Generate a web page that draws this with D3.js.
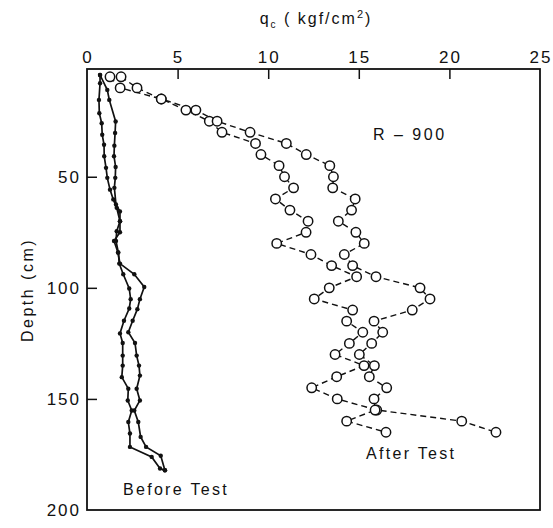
<!DOCTYPE html>
<html>
<head>
<meta charset="utf-8">
<script src="https://cdn.jsdelivr.net/npm/d3@7"></script>
<style>
  body { margin: 0; background: #fff; }
  svg text { font-family: "Liberation Sans", Arial, sans-serif; fill: #111; }
</style>
</head>
<body>
<svg id="chart" width="553" height="528"></svg>
<script>
// x ticks (top axis) and y ticks
var xTicks = [0, 5, 10, 15, 20, 25];
var yTicks = [50, 100, 150, 200];

// Before Test - left trace
var beforeDepthA = [4.2, 7.9, 15.4, 21.4, 25.9, 31.1, 35.6, 40.8, 46.0, 50.5, 55.8, 60.2, 64.0, 70.0, 74.5, 78.9, 84.1, 89.1, 93.9, 100.3, 105.1, 109.3, 114.8, 120.5, 124.8, 130.5, 135.0, 140.2, 145.4, 150.7, 155.2, 160.4, 165.6, 171.6, 176.1, 181.3, 182.1];
var beforeA      = [0.72, 0.72, 0.66, 0.68, 0.81, 0.84, 0.94, 0.95, 1.05, 1.12, 1.27, 1.45, 1.64, 1.82, 1.64, 1.60, 1.73, 1.78, 2.00, 2.33, 2.41, 2.33, 2.04, 1.82, 1.97, 1.97, 1.97, 1.92, 2.28, 2.25, 2.47, 2.28, 2.37, 2.37, 3.57, 4.03, 4.30];

// Before Test - right trace
var beforeDepthB = [4.2, 10.9, 15.4, 25.1, 30.3, 36.0, 40.8, 45.6, 50.5, 55.0, 62.5, 65.6, 70.0, 75.0, 78.9, 84.1, 89.1, 93.9, 99.6, 105.1, 109.6, 114.8, 120.0, 124.8, 130.5, 135.0, 139.5, 145.4, 150.7, 155.2, 160.4, 167.1, 171.6, 175.6, 182.1];
var beforeB      = [0.72, 1.12, 1.23, 1.58, 1.55, 1.51, 1.49, 1.58, 1.56, 1.51, 1.60, 1.82, 1.82, 1.82, 1.49, 1.71, 1.82, 2.61, 3.16, 2.92, 2.78, 2.52, 2.28, 2.65, 2.74, 2.87, 2.92, 2.74, 2.92, 2.61, 2.83, 2.96, 3.26, 4.07, 4.30];

// After Test - two soundings, same depths
var afterDepth = [5, 10, 15, 20, 25, 30, 35, 40, 45, 50, 55, 60, 65, 70, 75, 80, 85, 90, 95, 100, 105, 110, 115, 120, 125, 130, 135, 140, 145, 150, 155, 160, 165];
var afterA = [1.27, 1.83, 4.1, 5.46, 6.75, 7.45, 9.3, 9.6, 10.6, 10.9, 11.4, 10.4, 11.2, 12.2, 12.09, 10.47, 12.36, 13.5, 14.88, 13.37, 12.54, 14.66, 14.33, 15.22, 14.48, 13.69, 15.29, 13.78, 12.40, 13.81, 15.99, 20.68, 22.57];
var afterB = [1.88, 2.76, 4.1, 6.01, 7.18, 9.0, 11.0, 12.1, 13.4, 13.6, 13.56, 14.8, 14.6, 13.87, 14.84, 15.30, 14.20, 14.66, 15.95, 18.38, 18.93, 17.95, 15.84, 16.32, 15.71, 15.03, 15.86, 15.58, 16.54, 15.84, 15.9, 14.33, 16.50];

var svg = d3.select("#chart");
var margin = {top: 69, right: 13, bottom: 18, left: 87};
var width = 553 - margin.left - margin.right;
var height = 528 - margin.top - margin.bottom;

var x = d3.scaleLinear().domain([0, 25]).range([0, width]);
var y = d3.scaleLinear().domain([1.5, 200]).range([0, height]);

var g = svg.append("g")
    .attr("transform", "translate(" + margin.left + "," + margin.top + ")");

// frame
g.append("rect")
    .attr("width", width).attr("height", height)
    .attr("fill", "none").attr("stroke", "#111").attr("stroke-width", 1.8);

// top axis, ticks pointing inward
var xAxis = g.append("g")
    .call(d3.axisBottom(x).tickValues(xTicks).tickSize(10).tickFormat(""));
xAxis.select(".domain").remove();
xAxis.selectAll("line").attr("stroke", "#111").attr("stroke-width", 1.5);
xAxis.selectAll(".tick").filter(function(d){ return d === 0 || d === 25; }).remove();

g.selectAll(".xlab")
    .data(xTicks).enter().append("text")
    .attr("class", "xlab")
    .attr("x", d => x(d) + 1)
    .attr("y", -6)
    .attr("text-anchor", "middle")
    .style("font-size", "17px")
    .style("letter-spacing", "2px")
    .text(d => d);

// left axis, ticks pointing inward
var yAxis = g.append("g")
    .call(d3.axisRight(y).tickValues(yTicks.filter(d => d < 200)).tickSize(10).tickFormat(""));
yAxis.select(".domain").remove();
yAxis.selectAll("line").attr("stroke", "#111").attr("stroke-width", 1.5);

g.selectAll(".ylab")
    .data(yTicks).enter().append("text")
    .attr("class", "ylab")
    .attr("x", -6)
    .attr("y", d => y(d))
    .attr("dy", "0.35em")
    .attr("text-anchor", "end")
    .style("font-size", "17px")
    .style("letter-spacing", "2px")
    .text(d => d);

// axis titles
var title = svg.append("text")
    .attr("x", 316).attr("y", 24)
    .attr("text-anchor", "middle")
    .style("font-size", "16px")
    .style("letter-spacing", "2px");
title.append("tspan").text("q");
title.append("tspan").attr("dy", 4).style("font-size", "10px").text("c");
title.append("tspan").attr("dy", -4).text("  ( kgf/cm");
title.append("tspan").attr("dy", -6).style("font-size", "11px").text("2");
title.append("tspan").attr("dy", 6).text(")");

svg.append("text")
    .attr("transform", "translate(33,290) rotate(-90)")
    .attr("text-anchor", "middle")
    .style("font-size", "16px")
    .style("letter-spacing", "2.5px")
    .text("Depth (cm)");

// before test: solid lines with small dots
var line = d3.line().x(d => x(d[0])).y(d => y(d[1]));

[[beforeA, beforeDepthA], [beforeB, beforeDepthB]].forEach(function(s){
    var pts = d3.zip(s[0], s[1]);
    g.append("path")
        .datum(pts)
        .attr("d", line)
        .attr("fill", "none")
        .attr("stroke", "#111")
        .attr("stroke-width", 1.7);
    g.selectAll(null)
        .data(pts).enter().append("circle")
        .attr("cx", d => x(d[0]))
        .attr("cy", d => y(d[1]))
        .attr("r", 2.2)
        .attr("fill", "#111");
});

// after test: dashed lines with open circles
[afterA, afterB].forEach(function(vals){
    var pts = d3.zip(vals, afterDepth);
    g.append("path")
        .datum(pts)
        .attr("d", line)
        .attr("fill", "none")
        .attr("stroke", "#111")
        .attr("stroke-width", 1.4)
        .attr("stroke-dasharray", "6,4");
});
[afterA, afterB].forEach(function(vals){
    var pts = d3.zip(vals, afterDepth);
    g.selectAll(null)
        .data(pts).enter().append("circle")
        .attr("cx", d => x(d[0]))
        .attr("cy", d => y(d[1]))
        .attr("r", 4.7)
        .attr("fill", "#fff")
        .attr("stroke", "#111")
        .attr("stroke-width", 1.5);
});

// labels inside the plot
svg.append("text")
    .attr("x", 373).attr("y", 140)
    .style("font-size", "16px")
    .style("letter-spacing", "2.5px")
    .text("R \u2013 900");

svg.append("text")
    .attr("x", 123).attr("y", 495)
    .style("font-size", "16px")
    .style("letter-spacing", "2.3px")
    .text("Before Test");

svg.append("text")
    .attr("x", 366).attr("y", 459)
    .style("font-size", "16px")
    .style("letter-spacing", "2.3px")
    .text("After Test");
</script>
</body>
</html>
